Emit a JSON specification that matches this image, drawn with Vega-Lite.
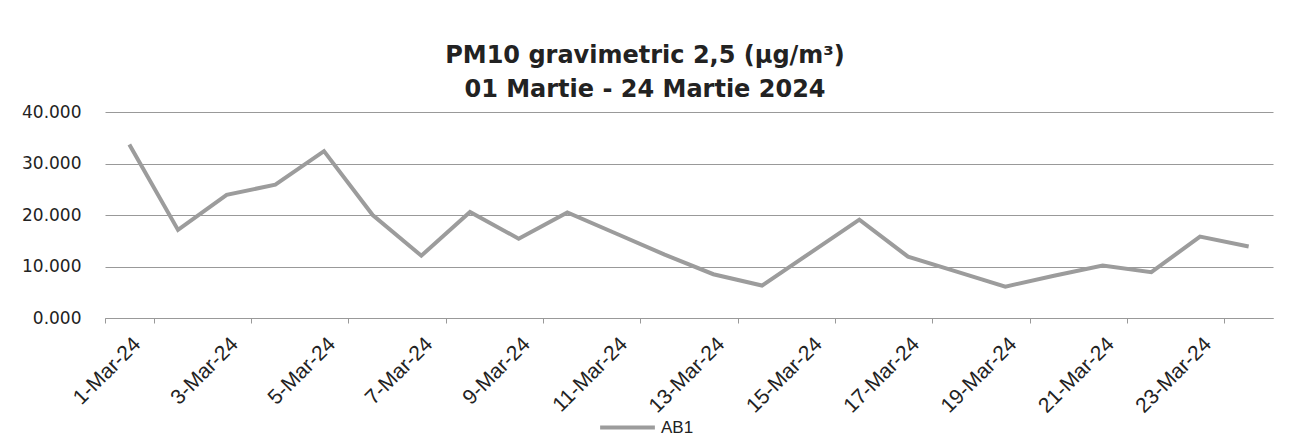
{
  "$schema": "https://vega.github.io/schema/vega-lite/v6.json",
  "width": 1168,
  "height": 206,
  "autosize": {"type": "none"},
  "padding": {"left": 105, "top": 112, "right": 21, "bottom": 130},
  "background": "white",
  "title": {
    "text": ["PM10 gravimetric 2,5 (µg/m³)", "01 Martie - 24 Martie 2024"],
    "font": "DejaVu Sans",
    "fontSize": 24,
    "fontWeight": "bold",
    "color": "#222222",
    "lineHeight": 34,
    "anchor": "middle",
    "dx": -44,
    "offset": 1
  },
  "data": {
    "values": [
      {"date": "1-Mar-24", "series": "AB1", "value": 33.7},
      {"date": "2-Mar-24", "series": "AB1", "value": 17.1},
      {"date": "3-Mar-24", "series": "AB1", "value": 23.9},
      {"date": "4-Mar-24", "series": "AB1", "value": 25.9},
      {"date": "5-Mar-24", "series": "AB1", "value": 32.4},
      {"date": "6-Mar-24", "series": "AB1", "value": 20.0},
      {"date": "7-Mar-24", "series": "AB1", "value": 12.1},
      {"date": "8-Mar-24", "series": "AB1", "value": 20.6},
      {"date": "9-Mar-24", "series": "AB1", "value": 15.4},
      {"date": "10-Mar-24", "series": "AB1", "value": 20.5},
      {"date": "11-Mar-24", "series": "AB1", "value": 16.4},
      {"date": "12-Mar-24", "series": "AB1", "value": 12.3},
      {"date": "13-Mar-24", "series": "AB1", "value": 8.5},
      {"date": "14-Mar-24", "series": "AB1", "value": 6.3},
      {"date": "15-Mar-24", "series": "AB1", "value": 12.7},
      {"date": "16-Mar-24", "series": "AB1", "value": 19.1},
      {"date": "17-Mar-24", "series": "AB1", "value": 11.9},
      {"date": "18-Mar-24", "series": "AB1", "value": 9.0},
      {"date": "19-Mar-24", "series": "AB1", "value": 6.1},
      {"date": "20-Mar-24", "series": "AB1", "value": 8.2},
      {"date": "21-Mar-24", "series": "AB1", "value": 10.2},
      {"date": "22-Mar-24", "series": "AB1", "value": 8.9},
      {"date": "23-Mar-24", "series": "AB1", "value": 15.8},
      {"date": "24-Mar-24", "series": "AB1", "value": 13.9}
    ]
  },
  "mark": {"type": "line", "strokeWidth": 4, "strokeJoin": "miter"},
  "encoding": {
    "x": {
      "field": "date",
      "type": "ordinal",
      "sort": null,
      "scale": {"type": "band", "paddingInner": 0, "paddingOuter": 0},
      "axis": {
        "title": null,
        "values": ["1-Mar-24", "3-Mar-24", "5-Mar-24", "7-Mar-24", "9-Mar-24", "11-Mar-24", "13-Mar-24", "15-Mar-24", "17-Mar-24", "19-Mar-24", "21-Mar-24", "23-Mar-24"],
        "labelAngle": -45,
        "labelFont": "Liberation Sans",
        "labelFontSize": 21,
        "labelColor": "#222222",
        "labelPadding": 10,
        "tickBand": "extent",
        "tickSize": 5,
        "tickColor": "#999999",
        "domainColor": "#999999",
        "grid": false
      }
    },
    "y": {
      "field": "value",
      "type": "quantitative",
      "scale": {"domain": [0, 40], "nice": false},
      "axis": {
        "title": null,
        "values": [0, 10, 20, 30, 40],
        "format": ".3f",
        "labelFont": "DejaVu Sans",
        "labelFontSize": 17,
        "labelColor": "#222222",
        "labelPadding": 24,
        "ticks": false,
        "domain": false,
        "grid": true,
        "gridColor": "#999999",
        "gridWidth": 1
      }
    },
    "color": {
      "field": "series",
      "type": "nominal",
      "scale": {"range": ["#9c9c9c"]},
      "legend": {
        "title": null,
        "orient": "none",
        "legendX": 493,
        "legendY": 286,
        "symbolType": "stroke",
        "symbolStrokeWidth": 4,
        "symbolSize": 3000,
        "labelFont": "Liberation Sans",
        "labelFontSize": 17,
        "labelColor": "#222222",
        "labelOffset": 4
      }
    }
  },
  "config": {"view": {"stroke": null}}
}
